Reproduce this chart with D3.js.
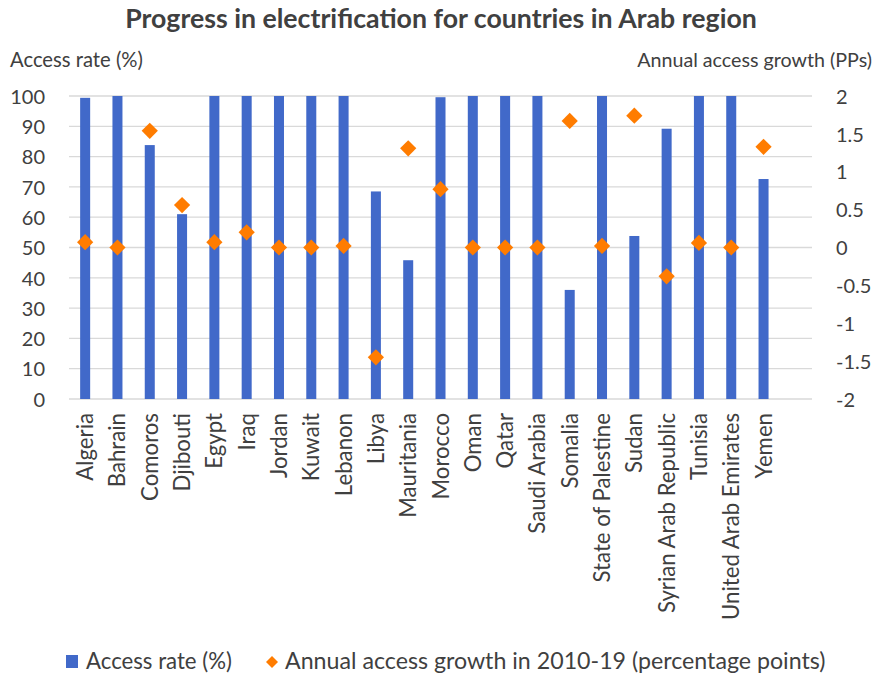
<!DOCTYPE html>
<html>
<head>
<meta charset="utf-8">
<script src="https://cdn.jsdelivr.net/npm/d3@7"></script>
<style>
  html, body { margin: 0; padding: 0; background: #fff; }
  svg { display: block; }
  text { font-family: Lato, "Open Sans", sans-serif; fill: #404040; }
</style>
</head>
<body>
<svg id="chart" width="876" height="680"></svg>
<script>
const countries = ["Algeria","Bahrain","Comoros","Djibouti","Egypt","Iraq","Jordan","Kuwait","Lebanon","Libya","Mauritania","Morocco","Oman","Qatar","Saudi Arabia","Somalia","State of Palestine","Sudan","Syrian Arab Republic","Tunisia","United Arab Emirates","Yemen"];
const accessRate = [99.4,100,83.8,61,100,100,100,100,100,68.5,45.8,99.6,100,100,100,36,100,53.8,89.2,100,100,72.6];
const annualGrowth = [0.07,0,1.54,0.56,0.07,0.2,0,0,0.02,-1.45,1.31,0.77,0,0,0,1.67,0.02,1.74,-0.38,0.06,0,1.33];
const leftTicks = [0,10,20,30,40,50,60,70,80,90,100];
const rightTicks = [-2,-1.5,-1,-0.5,0,0.5,1,1.5,2];
const rightTickLabels = ["-2","-1.5","-1","-0.5","0","0.5","1","1.5","2"];

const title = "Progress in electrification for countries in Arab region";
const leftTitle = "Access rate (%)";
const rightTitle = "Annual access growth (PPs)";
const legendLabels = ["Access rate (%)", "Annual access growth in 2010-19 (percentage points)"];

const BLUE = "#4169c9", ORANGE = "#ff7c00", GRID = "#d9d9d9";
const svg = d3.select("#chart");

const L = 69, R = 812, T = 96, B = 399;
// the reference plot leaves one empty category slot at the right end
const slots = countries.length + 1;
const step = (R - L) / slots;
const x = d3.scaleBand().domain(countries).range([L, L + step * countries.length]).paddingInner(0.69).paddingOuter(0.345);
const yL = d3.scaleLinear().domain([0, 100]).range([B, T]);
const yR = d3.scaleLinear().domain([-2, 2]).range([B, T]);

function fitSize(sel, target) {
  const w = sel.node().getComputedTextLength();
  const fs = parseFloat(sel.attr("font-size"));
  sel.attr("font-size", fs * target / w);
}

// gridlines
svg.append("g").selectAll("line").data(leftTicks).join("line")
  .attr("x1", L).attr("x2", R)
  .attr("y1", d => yL(d)).attr("y2", d => yL(d))
  .attr("stroke", GRID).attr("stroke-width", 1.3);

// bars
svg.append("g").selectAll("rect").data(countries).join("rect")
  .attr("x", d => x(d))
  .attr("width", x.bandwidth())
  .attr("y", (d, i) => yL(accessRate[i]))
  .attr("height", (d, i) => yL(0) - yL(accessRate[i]))
  .attr("fill", BLUE);

// diamonds
const diamond = d3.symbol().type(d3.symbolSquare).size(132);
svg.append("g").selectAll("path").data(countries).join("path")
  .attr("d", diamond)
  .attr("transform", (d, i) => `translate(${x(d) + x.bandwidth() / 2},${yR(annualGrowth[i])}) rotate(45)`)
  .attr("fill", ORANGE);

// left axis
const la = svg.append("g").attr("transform", `translate(45,0)`)
  .call(d3.axisLeft(yL).tickValues(leftTicks).tickSize(0).tickPadding(0));
la.select(".domain").remove();
la.selectAll("text").attr("font-size", 20).attr("font-family", "Lato").attr("fill", "#404040").attr("dy", "0.36em");

// right axis
const ra = svg.append("g").attr("transform", `translate(836,0)`)
  .call(d3.axisRight(yR).tickValues(rightTicks).tickFormat((d, i) => rightTickLabels[i]).tickSize(0).tickPadding(0));
ra.select(".domain").remove();
ra.selectAll("text").attr("font-size", 20).attr("font-family", "Lato").attr("fill", "#404040").attr("dy", "0.36em");

// x labels
const xa = svg.append("g").attr("transform", `translate(0,${B})`)
  .call(d3.axisBottom(x).tickSize(0).tickPadding(0));
xa.select(".domain").remove();
const xt = xa.selectAll("text")
  .attr("font-size", 20).attr("font-family", "Lato").attr("fill", "#404040")
  .attr("text-anchor", "end")
  .attr("transform", "rotate(-90)")
  .attr("x", -14).attr("y", 0).attr("dy", "0.36em");
{
  const uae = xt.filter(d => d === "United Arab Emirates");
  const w = uae.node().getComputedTextLength();
  xt.attr("font-size", 20 * 207 / w);
}

// titles
const t = svg.append("text").attr("x", 441).attr("y", 28).attr("text-anchor", "middle")
  .attr("font-size", 20).attr("font-weight", "bold").attr("fill", "#000").text(title);
fitSize(t, 632);
const lt = svg.append("text").attr("x", 10).attr("y", 67).attr("font-size", 18).text(leftTitle);
fitSize(lt, 133);
const rt = svg.append("text").attr("x", 872).attr("y", 67).attr("text-anchor", "end").attr("font-size", 18).text(rightTitle);
fitSize(rt, 235);

// legend
const lg = svg.append("g");
lg.append("rect").attr("x", 66).attr("y", 655).attr("width", 12).attr("height", 13).attr("fill", BLUE);
const l1 = lg.append("text").attr("x", 86).attr("y", 669).attr("font-size", 18).text(legendLabels[0]);
fitSize(l1, 146);
lg.append("path").attr("d", d3.symbol().type(d3.symbolSquare).size(72)())
  .attr("transform", "translate(272,662) rotate(45)").attr("fill", ORANGE);
const l2 = lg.append("text").attr("x", 285).attr("y", 669).attr("font-size", 18).text(legendLabels[1]);
fitSize(l2, 541);
</script>
</body>
</html>
